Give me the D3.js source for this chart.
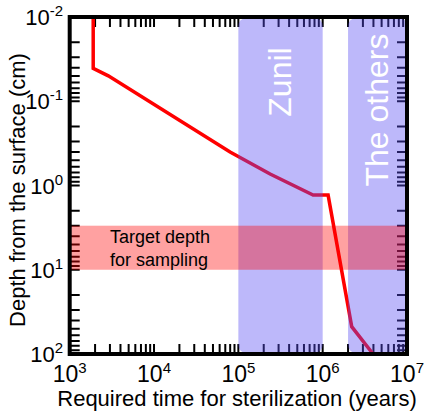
<!DOCTYPE html>
<html>
<head>
<meta charset="utf-8">
<script src="https://cdn.jsdelivr.net/npm/d3@7"></script>
<style>
  html, body { margin: 0; padding: 0; background: #fff; }
  svg { display: block; font-family: "Liberation Sans", Arial, Helvetica, sans-serif; }
  .tk { stroke: #000; stroke-width: 2px; fill: none; }
</style>
</head>
<body>
<svg id="chart" width="430" height="416" xmlns="http://www.w3.org/2000/svg"></svg>
<script>
// ---- data ----
const timeYears = [1900, 1900, 2870, 79800, 238000, 770000, 1160000, 2210000, 3960000];
const depthCm   = [0.01, 0.0407, 0.05, 0.40, 0.73, 1.30, 1.30, 47.4, 100];

const bandNames = ["Zunil", "The others"];
const bandStart = [1e5, 2e6];
const bandEnd   = [1e6, 1e7];

const targetDepth = [3, 10];
const targetLabel = ["Target depth", "for sampling"];

const xTickExp = [3, 4, 5, 6, 7];
const yTickExp = [-2, -1, 0, 1, 2];
const minorMultiples = [1, 2, 3, 4, 5, 6, 7, 8, 9];

const xTitle = "Required time for sterilization (years)";
const yTitle = "Depth from the surface (cm)";

// ---- layout ----
const Lp = 69.7, Rp = 407, Tp = 17, Bp = 354;
const svg = d3.select("#chart");

const x = d3.scaleLog().domain([1e3, 1e7]).range([Lp, Rp]);
const y = d3.scaleLog().domain([1e-2, 1e2]).range([Tp, Bp]);

function tickVals(exps) {
  const out = [];
  exps.slice(0, -1).forEach(e => minorMultiples.forEach(k => out.push(k * Math.pow(10, e))));
  return out.filter((v, i) => i > 0);
}
const xVals = tickVals(xTickExp);
const yVals = tickVals(yTickExp);

// ticks: one path through the scales, drawn with the same kind of element as the curve
const tickLine = d3.line();
const tickSegs = [];
xVals.forEach(v => {
  tickSegs.push([[x(v), Bp], [x(v), Bp - 10]]);
  tickSegs.push([[x(v), Tp], [x(v), Tp + 10]]);
});
yVals.forEach(v => {
  tickSegs.push([[Lp, y(v)], [Lp + 10, y(v)]]);
  tickSegs.push([[Rp, y(v)], [Rp - 10, y(v)]]);
});
svg.append("path")
  .attr("class", "tk")
  .attr("d", tickSegs.map(s => tickLine(s)).join(""))
  .attr("fill", "none")
  .attr("stroke", "#000000")
  .attr("stroke-width", 2);

// red curve
const pts = timeYears.map((t, i) => [t, depthCm[i]]);
svg.append("path")
  .datum(pts)
  .attr("fill", "none")
  .attr("stroke", "#ff0000")
  .attr("stroke-width", 3.5)
  .attr("stroke-linejoin", "miter")
  .attr("d", d3.line().x(d => x(d[0])).y(d => y(d[1])));

// blue bands with rounded corners
bandNames.forEach((name, i) => {
  const x0 = x(bandStart[i]), x1 = x(bandEnd[i]);
  svg.append("rect")
    .attr("x", x0).attr("y", Tp + 1)
    .attr("width", x1 - x0).attr("height", Bp - Tp - 2)
    .attr("rx", 8).attr("ry", 8)
    .attr("fill", "#5a4ef2").attr("fill-opacity", 0.4);
});

// target depth band
svg.append("rect")
  .attr("x", Lp).attr("width", Rp - Lp)
  .attr("y", y(targetDepth[0])).attr("height", y(targetDepth[1]) - y(targetDepth[0]))
  .attr("fill", "#ff0000").attr("fill-opacity", 0.37);

// band labels (white, vertical)
const bandLabelPos = [[291, 82], [388, 110]];
bandNames.forEach((name, i) => {
  svg.append("text")
    .attr("transform", `translate(${bandLabelPos[i][0]},${bandLabelPos[i][1]}) rotate(-90)`)
    .attr("text-anchor", "middle")
    .attr("fill", "#fff")
    .attr("font-size", 32)
    .text(name);
});

// target label
targetLabel.forEach((s, i) => {
  svg.append("text")
    .attr("x", 110).attr("y", 243 + i * 22.5)
    .attr("font-size", 18).attr("fill", "#000")
    .text(s);
});

// frame
svg.append("rect")
  .attr("x", Lp).attr("y", Tp).attr("width", Rp - Lp).attr("height", Bp - Tp)
  .attr("fill", "none").attr("stroke", "#000").attr("stroke-width", 4);

// x tick labels
xTickExp.forEach(e => {
  const t = svg.append("text")
    .attr("x", x(Math.pow(10, e))).attr("y", 382)
    .attr("text-anchor", "middle").attr("font-size", 23);
  t.append("tspan").text("10");
  t.append("tspan").attr("dy", -9).attr("font-size", 15).text(String(e));
});

// y tick labels
yTickExp.forEach(e => {
  const t = svg.append("text")
    .attr("x", 63).attr("y", y(Math.pow(10, e)) + 8)
    .attr("text-anchor", "end").attr("font-size", 22);
  t.append("tspan").text("10");
  t.append("tspan").attr("dy", -9).attr("font-size", 15).text(e < 0 ? "-" + Math.abs(e) : String(e));
});

// axis titles
svg.append("text")
  .attr("x", 237).attr("y", 406)
  .attr("text-anchor", "middle").attr("font-size", 22)
  .text(xTitle);
svg.append("text")
  .attr("transform", "translate(25,190) rotate(-90)")
  .attr("text-anchor", "middle").attr("font-size", 22)
  .text(yTitle);
</script>
</body>
</html>
